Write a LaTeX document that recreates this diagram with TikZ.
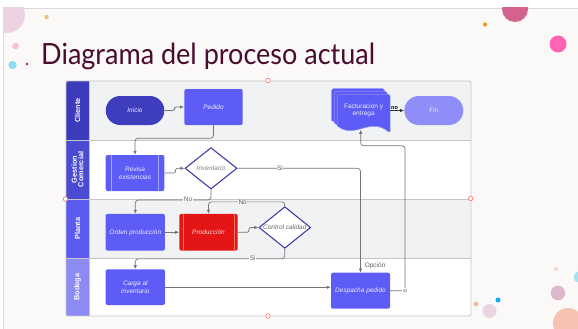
\documentclass[tikz,border=0pt]{standalone}
\usepackage{fontspec}
\setmainfont{Liberation Sans}
\newfontfamily\titlefont{Lato}
\usetikzlibrary{shapes.geometric,arrows.meta,calc}
\definecolor{slidebg}{HTML}{FBF9F8}
\definecolor{lanegray}{HTML}{F1F2F4}
\definecolor{hdrA}{HTML}{3C3BB9}
\definecolor{hdrB}{HTML}{4B4AD2}
\definecolor{hdrC}{HTML}{5C5BF0}
\definecolor{hdrD}{HTML}{8C8BF4}
\definecolor{procblue}{HTML}{5E5CF6}
\definecolor{startblue}{HTML}{3E3DBE}
\definecolor{finblue}{HTML}{8F8DF8}
\definecolor{prodred}{HTML}{E41515}
\definecolor{decborder}{HTML}{3F3FA8}
\definecolor{linegray}{HTML}{747474}
\definecolor{framegray}{HTML}{C6C6C8}
\definecolor{titlecol}{HTML}{4A0B2E}
\definecolor{dA}{HTML}{ECD3E2}
\definecolor{dB}{HTML}{D3628E}
\definecolor{dC}{HTML}{F6C3B2}
\definecolor{dD}{HTML}{A8E2F2}
\definecolor{dE}{HTML}{F5BE7C}
\definecolor{dF}{HTML}{F8BFD8}
\definecolor{dG}{HTML}{8EDCF0}
\definecolor{dH}{HTML}{A0105A}
\definecolor{dI}{HTML}{EE9B2C}
\definecolor{dJ}{HTML}{FF63B3}
\definecolor{dK}{HTML}{F5B8A2}
\definecolor{dL}{HTML}{10AEEA}
\definecolor{dM}{HTML}{EBD5E2}
\definecolor{dN}{HTML}{F3DAD6}
\definecolor{dO}{HTML}{DDB7CB}
\begin{document}
\begin{tikzpicture}[x=1pt,y=-1pt,
  txt/.style={font=\fontsize{6.5}{7.5}\selectfont},
  proc/.style={txt,rectangle,rounded corners=2pt,fill=procblue,text=white!88!procblue,font=\fontsize{6.5}{7.5}\selectfont\itshape,align=center,inner sep=0pt},
  decision/.style={diamond,draw=decborder,line width=1.1pt,fill=white,inner sep=0pt},
  dectext/.style={font=\fontsize{6.5}{7.5}\selectfont\itshape,text=black!50},
  hdr/.style={rotate=90,font=\fontsize{7.3}{8}\selectfont\bfseries,text=white,align=center},
  conn/.style={draw=linegray,line width=0.7pt,rounded corners=3pt,-{Latex[length=4pt,width=3.4pt]}},
  lbl/.style={font=\fontsize{6.5}{7.5}\selectfont,text=black!62,inner sep=0.6pt},
  handle/.style={circle,draw=red!55!white,fill=white,line width=0.6pt,inner sep=0pt,minimum size=4.5pt}
]
\useasboundingbox (0,0) rectangle (578,329);
\fill[white] (0,0) rectangle (578,329);
\fill[slidebg] (3,8) rectangle (578,329);
\draw[black!14,line width=0.6pt] (578,8) -- (3,8) -- (3,329);

% decorations
\begin{scope}
\clip (3,8) rectangle (578,329);
\fill[dA] (7,15) circle (18);
\fill[dB] (515,9) circle (13);
\fill[dC] (568,323) circle (15);
\fill[dD] (579,277) circle (5.5);
\end{scope}
\fill[dE] (46.5,17) circle (2.2);
\fill[dF] (15.5,46) circle (3.3);
\fill[dG] (12.5,65) circle (4.2);
\fill[dH] (27,64) circle (1.3);
\fill[dI] (485,24.5) circle (2.2);
\fill[dJ] (558,44) circle (8.5);
\fill[dK] (476,304) circle (2.4);
\fill[dL] (498,300) circle (2.5);
\fill[dM] (489.5,311) circle (7);
\fill[dN] (556,269) circle (2);
\fill[dO] (558,293) circle (7.3);

% title
\node[anchor=base west,inner sep=0pt,text=titlecol] (title) at (41,64)
  {\resizebox{334pt}{21.5pt}{\titlefont Diagrama del proceso actual}};

% lanes
\fill[lanegray] (89,81) rectangle (471,140);
\fill[white] (89,140) rectangle (471,199);
\fill[lanegray] (89,199) rectangle (471,258);
\fill[white] (89,258) rectangle (471,316);
\fill[hdrA] (66,81) rectangle (89,140);
\fill[hdrB] (66,140) rectangle (89,199);
\fill[hdrC] (66,199) rectangle (89,258);
\fill[hdrD] (66,258) rectangle (89,316);
\draw[framegray,line width=0.8pt] (66,140) -- (471,140) (66,199) -- (471,199) (66,258) -- (471,258) (89,81) -- (89,316);
\draw[framegray,line width=0.8pt,rounded corners=1.5pt] (66,81) rectangle (471,316);
\node[hdr] (hc) at (77.5,110.5) {Cliente};
\node[hdr] (hg) at (77.5,169.5) {Gestion\\[-1.5pt]Comercial};
\node[hdr] (hp) at (77.5,228.5) {Planta};
\node[hdr] (hb) at (77.5,287) {Bodega};

% nodes
\node[proc,fill=startblue,rounded corners=14.5pt,minimum width=58.6pt,minimum height=29pt] (inicio) at (135,110.5) {Inicio};
\node[proc,minimum width=58.4pt,minimum height=36pt] (pedido) at (213.5,107) {Pedido};
\node[proc,minimum width=58.6pt,minimum height=36pt] (revisa) at (135,173) {Revisa\\existencias};
\draw[white!45!procblue,line width=0.5pt] ([xshift=6pt]revisa.north west) -- ([xshift=6pt]revisa.south west)
   ([xshift=-6pt]revisa.north east) -- ([xshift=-6pt]revisa.south east);
\node[decision,minimum width=52pt,minimum height=41.4pt,label={[dectext]center:Inventario}] (inv) at (211,168.3) {};
\node[proc,minimum width=59.3pt,minimum height=36.7pt] (orden) at (135.3,232.3) {Orden producción};
\node[proc,fill=prodred,text=white!85!prodred,minimum width=58.4pt,minimum height=36.7pt] (prod) at (208.5,232.3) {Producción};
\draw[white!40!prodred,line width=0.5pt] ([xshift=4pt]prod.north west) -- ([xshift=4pt]prod.south west)
   ([xshift=-4pt]prod.north east) -- ([xshift=-4pt]prod.south east);
\node[decision,minimum width=51.7pt,minimum height=41.6pt,label={[dectext,text=black!58]center:Control calidad}] (ctrl) at (284.8,227.5) {};
\node[proc,minimum width=59.3pt,minimum height=35.7pt] (carga) at (135.3,287.2) {Carga al\\inventario};
\node[proc,minimum width=59pt,minimum height=36pt] (desp) at (360.5,290.7) {Despacha pedido};

% multi-document
\foreach \o in {5.6,2.8,0}{
 \begin{scope}[shift={(-\o,-\o)}]
  \fill[procblue,draw=white!30!procblue,line width=0.5pt,rounded corners=1.5pt]
    (337.3,126) -- (337.3,94.3) -- (390,94.3) -- (390,133)
    [sharp corners] .. controls (370,116) and (355,140) .. (337.3,126) -- cycle;
 \end{scope}
}
\node[txt,text=white!88!procblue,align=center,minimum width=52.7pt,minimum height=32.4pt,inner sep=0pt] (fact) at (363.6,110.5) {Facturacion y\\entrega};
\coordinate (factin) at (360.7,129.8);
\node[proc,fill=finblue,font=\fontsize{6.5}{7.5}\selectfont,rounded corners=14.5pt,minimum width=59pt,minimum height=29pt] (fin) at (433.8,110.5) {Fin};

% connectors
\draw[conn,rounded corners=2pt] (inicio.east) -- ++(10,0) |- (pedido.west);
\draw[conn] (pedido.south) -- ++(0,13) -| (revisa.north);
\draw[conn,rounded corners=2pt] (revisa.east) -- ++(11,0) |- (inv.west);
\draw[conn] (inv.east) -| (desp.north);
\node[lbl,fill=white] (lsi1) at (280,168.3) {Si};
\node[lbl,anchor=south west] (lopc) at (364,270) {Opción};
\draw[conn] (inv.south) -- ++(0,10.5) -| (orden.north);
\node[lbl,fill=white,inner ysep=0pt] (lno1) at (188,199) {No};
\draw[conn] (orden.east) -- (prod.west);
\draw[conn,rounded corners=2pt] (prod.east) -- ++(11,0) |- (ctrl.west);
\draw[conn] (ctrl.north) -- ++(0,-4.3) -| (prod.north);
\node[lbl,fill=lanegray,inner ysep=0pt] (lno2) at (242.7,202.4) {No};
\draw[conn] (ctrl.south) -- ++(0,10) -| (carga.north);
\node[lbl,fill=white,inner ysep=0pt] (lsi2) at (252.7,258.3) {Si};
\draw[conn] (carga.east |- 0,287.3) -- (desp.west |- 0,287.3);
\draw[conn] (desp.east) -- (405,290.7) -- (405,145.7) -| (factin);
\node[lbl,fill=white,font=\fontsize{5.5}{6}\selectfont] (lsi3) at (405,290.7) {si};
\draw[conn,draw=black!80] (fact.east) -- (fin.west);
\node[lbl,text=black,font=\fontsize{5.5}{6}\selectfont\bfseries,anchor=south] (lno3) at (394.5,110) {no};

% selection handles
\node[handle] (h1) at (268,80.5) {};
\node[handle] (h2) at (65.5,199) {};
\node[handle] (h3) at (470.7,198.5) {};
\node[handle] (h4) at (268,316) {};
\end{tikzpicture}
\end{document}
